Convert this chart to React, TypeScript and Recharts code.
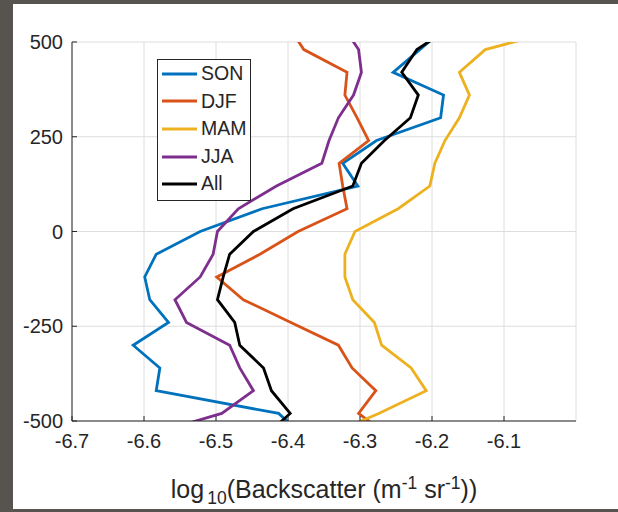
import { LineChart, Line, XAxis, YAxis, CartesianGrid, Legend } from "recharts";

// altitude levels (m); the outer two fall just outside the visible axis
const altitudes = [-540, -480, -420, -360, -300, -240, -180, -120, -60, 0, 60, 120, 180, 240, 300, 360, 420, 480, 540];

// log10(backscatter) per season
const son = [-6.379, -6.413, -6.583, -6.578, -6.615, -6.566, -6.592, -6.599, -6.583, -6.522, -6.436, -6.303, -6.324, -6.277, -6.188, -6.184, -6.254, -6.217, -6.18];
const djf = [-6.26, -6.302, -6.278, -6.311, -6.33, -6.396, -6.462, -6.499, -6.439, -6.386, -6.318, -6.324, -6.329, -6.288, -6.304, -6.321, -6.318, -6.378, -6.399];
const mam = [-6.347, -6.274, -6.208, -6.229, -6.27, -6.28, -6.31, -6.321, -6.321, -6.307, -6.247, -6.203, -6.196, -6.182, -6.162, -6.148, -6.162, -6.126, -6.008];
const jja = [-6.6, -6.492, -6.448, -6.467, -6.481, -6.541, -6.557, -6.522, -6.504, -6.498, -6.469, -6.416, -6.353, -6.343, -6.33, -6.309, -6.298, -6.302, -6.323];
const all = [-6.432, -6.397, -6.423, -6.434, -6.467, -6.474, -6.498, -6.49, -6.481, -6.448, -6.393, -6.31, -6.298, -6.266, -6.23, -6.219, -6.242, -6.221, -6.173];

const xTicks = [-6.7, -6.6, -6.5, -6.4, -6.3, -6.2, -6.1];
const yTicks = [-500, -250, 0, 250, 500];

const series = [
  { key: "son", name: "SON", color: "#0072BD" },
  { key: "djf", name: "DJF", color: "#D95319" },
  { key: "mam", name: "MAM", color: "#EDB120" },
  { key: "jja", name: "JJA", color: "#7E2F8E" },
  { key: "all", name: "All", color: "#000000" },
];

const rows = altitudes.map((alt, i) => ({
  alt,
  son: son[i],
  djf: djf[i],
  mam: mam[i],
  jja: jja[i],
  all: all[i],
}));

const axisColor = "#262626";
const font = "'Liberation Sans', Arial, Helvetica, sans-serif";
const seriesOrder = series.map((s) => s.name);

function LegendBox({ payload }: any) {
  // keep plot order (recharts sorts by name otherwise)
  const items = [...(payload || [])].sort(
    (a: any, b: any) => seriesOrder.indexOf(a.value) - seriesOrder.indexOf(b.value)
  );
  return (
    <div
      style={{
        border: "1px solid #262626",
        background: "#fff",
        width: 94,
        padding: "0 0 2px 4px",
        boxSizing: "border-box",
        fontFamily: font,
        fontSize: 19.5,
        color: axisColor,
      }}
    >
      {items.map((p: any) => (
        <div key={p.value} style={{ display: "flex", alignItems: "center", height: 27.6 }}>
          <svg width={35} height={6}>
            <line x1={0} y1={3} x2={35} y2={3} stroke={p.color} strokeWidth={2.8} />
          </svg>
          <span style={{ marginLeft: 4, lineHeight: 1 }}>{p.value}</span>
        </div>
      ))}
    </div>
  );
}

function XLabel({ viewBox }: any) {
  const cx = viewBox.x + viewBox.width / 2;
  const y = viewBox.y + 77;
  return (
    <text x={cx} y={y} textAnchor="middle" fontSize={25} fill={axisColor} fontFamily={font}>
      log
      <tspan dx={3} dy={6} fontSize={17.5}>10</tspan>
      <tspan dy={-6}>(Backscatter (m</tspan>
      <tspan dy={-9} fontSize={17.5}>-1</tspan>
      <tspan dy={9}> sr</tspan>
      <tspan dy={-9} fontSize={17.5}>-1</tspan>
      <tspan dy={9}>))</tspan>
    </text>
  );
}

export default function App() {
  return (
    <div style={{ position: "absolute", left: 0, top: 0, width: 618, height: 512, background: "#57534e" }}>
      <div style={{ position: "absolute", left: 13, top: 4, width: 605, height: 505, background: "#fff" }} />
      <div style={{ position: "absolute", left: 0, top: 0 }}>
        <LineChart
          width={618}
          height={512}
          data={rows}
          layout="vertical"
          margin={{ top: 42, right: 42, bottom: 0, left: 0 }}
          style={{ fontFamily: font }}
        >
          <CartesianGrid stroke="#dedede" />
          <XAxis
            type="number"
            domain={[-6.7, -6.0]}
            ticks={xTicks}
            interval={0}
            allowDataOverflow
            height={91}
            tickSize={-5}
            tickMargin={18}
            stroke={axisColor}
            tick={{ fontSize: 20, fill: axisColor }}
            label={{ content: XLabel }}
          />
          <XAxis
            xAxisId="top"
            orientation="top"
            type="number"
            domain={[-6.7, -6.0]}
            ticks={xTicks}
            interval={0}
            allowDataOverflow
            height={0}
            tickSize={-5}
            tick={false}
            stroke={axisColor}
          />
          <YAxis
            type="number"
            dataKey="alt"
            domain={[-500, 500]}
            ticks={yTicks}
            interval={0}
            allowDataOverflow
            reversed
            width={72}
            tickSize={-5}
            tickMargin={14}
            stroke={axisColor}
            tick={{ fontSize: 20, fill: axisColor }}
          />
          <YAxis
            yAxisId="right"
            orientation="right"
            type="number"
            dataKey="alt"
            domain={[-500, 500]}
            ticks={yTicks}
            interval={0}
            allowDataOverflow
            reversed
            width={0}
            tickSize={-5}
            tick={false}
            stroke={axisColor}
          />
          <Legend
            layout="horizontal"
            align="center"
            verticalAlign="middle"
            content={LegendBox}
            wrapperStyle={{ left: 157, top: 59, width: 94 }}
          />
          {series.map((s) => (
            <Line
              key={s.key}
              dataKey={s.key}
              name={s.name}
              stroke={s.color}
              strokeWidth={2.8}
              dot={false}
              activeDot={false}
              legendType="line"
              isAnimationActive={false}
            />
          ))}
        </LineChart>
      </div>
    </div>
  );
}
